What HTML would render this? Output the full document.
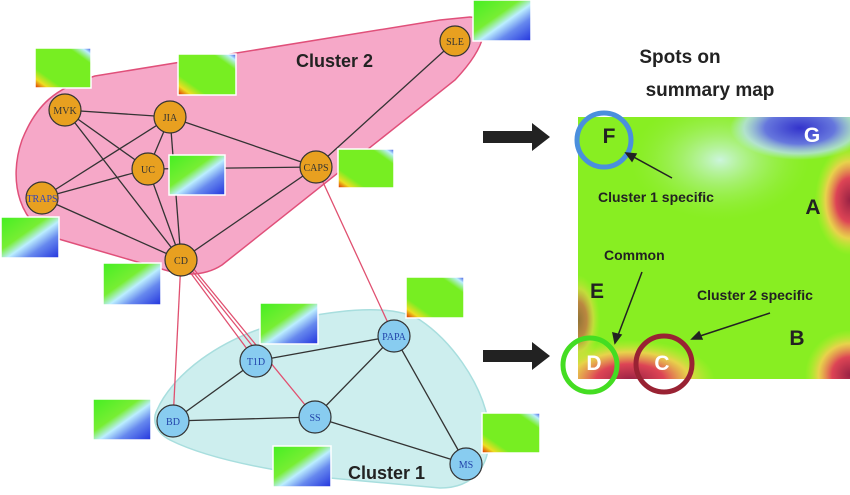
<!DOCTYPE html>
<html><head><style>
body{margin:0;width:850px;height:490px;overflow:hidden;background:#fff;font-family:"Liberation Sans",sans-serif}
</style></head><body>
<svg width="850" height="490" xmlns="http://www.w3.org/2000/svg">
<defs>
<linearGradient id="t1" x1="0" y1="0" x2="1" y2="1">
<stop offset="0" stop-color="#44ee22"/><stop offset="0.4" stop-color="#77ee33"/><stop offset="0.55" stop-color="#bbeeff"/><stop offset="0.72" stop-color="#6688ee"/><stop offset="1" stop-color="#2233dd"/></linearGradient>
<linearGradient id="t2" x1="0" y1="1" x2="1" y2="0">
<stop offset="0" stop-color="#dd2200"/><stop offset="0.12" stop-color="#eedd22"/><stop offset="0.25" stop-color="#77ee22"/><stop offset="0.8" stop-color="#77ee22"/><stop offset="0.92" stop-color="#bbeeff"/><stop offset="1" stop-color="#3344dd"/></linearGradient>
<radialGradient id="hot" cx="0.5" cy="0.5" r="0.5"><stop offset="0" stop-color="#992244"/><stop offset="0.4" stop-color="#dd4455"/><stop offset="0.7" stop-color="#ffcc55" stop-opacity="0.8"/><stop offset="1" stop-color="#ccee33" stop-opacity="0"/></radialGradient>
<radialGradient id="cold" cx="0.5" cy="0.5" r="0.5"><stop offset="0" stop-color="#3333cc"/><stop offset="0.5" stop-color="#6677dd"/><stop offset="0.8" stop-color="#bbddff" stop-opacity="0.7"/><stop offset="1" stop-color="#bbeeff" stop-opacity="0"/></radialGradient>
<radialGradient id="light" cx="0.5" cy="0.5" r="0.5"><stop offset="0" stop-color="#ccf5dd"/><stop offset="1" stop-color="#99ee44" stop-opacity="0"/></radialGradient>
<clipPath id="mc"><rect x="578" y="117" width="272" height="262"/></clipPath>
</defs>
<path d="M470,17 C492,18 488,45 455,80 L222,265 C205,276 185,276 165,270 L62,240 C18,228 8,180 22,140 C36,105 55,88 95,76 L440,20 Z" fill="#f6a8c8" stroke="#e0507a" stroke-width="1.5"/>
<path d="M157,410 C170,380 215,335 300,318 C350,308 395,305 420,320 C450,340 480,380 488,420 C495,470 470,488 440,488 L330,478 C250,468 200,455 170,440 C155,432 152,420 157,410 Z" fill="#cdeeee" stroke="#a8dede" stroke-width="1.5"/>
<g stroke="#e05070" stroke-width="1.3">
<line x1="181" y1="260" x2="173" y2="421"/><line x1="181" y1="260" x2="256" y2="361"/><line x1="185" y1="262" x2="262" y2="358"/><line x1="188" y1="262" x2="315" y2="417"/><line x1="316" y1="167" x2="394" y2="336"/>
</g>
<g stroke="#333" stroke-width="1.3">
<line x1="65" y1="110" x2="170" y2="117"/><line x1="65" y1="110" x2="148" y2="169"/><line x1="65" y1="110" x2="181" y2="260"/>
<line x1="170" y1="117" x2="42" y2="198"/><line x1="170" y1="117" x2="148" y2="169"/><line x1="170" y1="117" x2="181" y2="260"/><line x1="170" y1="117" x2="316" y2="167"/>
<line x1="148" y1="169" x2="42" y2="198"/><line x1="148" y1="169" x2="181" y2="260"/><line x1="148" y1="169" x2="316" y2="167"/>
<line x1="42" y1="198" x2="181" y2="260"/><line x1="316" y1="167" x2="181" y2="260"/><line x1="316" y1="167" x2="455" y2="41"/>
<line x1="256" y1="361" x2="394" y2="336"/><line x1="256" y1="361" x2="173" y2="421"/><line x1="173" y1="421" x2="315" y2="417"/><line x1="315" y1="417" x2="394" y2="336"/><line x1="315" y1="417" x2="466" y2="464"/><line x1="394" y1="336" x2="466" y2="464"/>
</g>
<g stroke="#fff" stroke-width="1.5">
<rect x="35" y="48" width="56" height="40" fill="url(#t2)"/>
<rect x="178" y="54" width="58" height="41" fill="url(#t2)"/>
<rect x="169" y="155" width="56" height="40" fill="url(#t1)"/>
<rect x="338" y="149" width="56" height="39" fill="url(#t2)"/>
<rect x="1" y="217" width="58" height="41" fill="url(#t1)"/>
<rect x="103" y="263" width="58" height="42" fill="url(#t1)"/>
<rect x="473" y="0" width="58" height="41" fill="url(#t1)"/>
<rect x="406" y="277" width="58" height="41" fill="url(#t2)"/>
<rect x="260" y="303" width="58" height="41" fill="url(#t1)"/>
<rect x="93" y="399" width="58" height="41" fill="url(#t1)"/>
<rect x="273" y="446" width="58" height="41" fill="url(#t1)"/>
<rect x="482" y="413" width="58" height="40" fill="url(#t2)"/>
</g>
<g font-family="Liberation Serif,serif" font-size="10" text-anchor="middle">
<g fill="#e8a020" stroke="#333" stroke-width="1.2">
<circle cx="455" cy="41" r="15"/><circle cx="65" cy="110" r="16"/><circle cx="170" cy="117" r="16"/><circle cx="148" cy="169" r="16"/><circle cx="42" cy="198" r="16"/><circle cx="316" cy="167" r="16"/><circle cx="181" cy="260" r="16"/>
</g>
<g fill="#333"><text x="455" y="45">SLE</text><text x="65" y="114">MVK</text><text x="170" y="121">JIA</text><text x="148" y="173">UC</text><text x="316" y="171">CAPS</text><text x="181" y="264">CD</text></g>
<text x="42" y="202" fill="#3344bb">TRAPS</text>
<g fill="#88ccf0" stroke="#333" stroke-width="1.2">
<circle cx="256" cy="361" r="16"/><circle cx="394" cy="336" r="16"/><circle cx="173" cy="421" r="16"/><circle cx="315" cy="417" r="16"/><circle cx="466" cy="464" r="16"/>
</g>
<g fill="#2244aa"><text x="256" y="365">T1D</text><text x="394" y="340">PAPA</text><text x="173" y="425">BD</text><text x="315" y="421">SS</text><text x="466" y="468">MS</text></g>
</g>
<text x="296" y="67" font-size="18" font-weight="bold" fill="#222">Cluster 2</text>
<text x="348" y="479" font-size="18" font-weight="bold" fill="#222">Cluster 1</text>
<polygon points="483,131 532,131 532,123 550,137 532,151 532,143 483,143" fill="#222"/>
<polygon points="483,350 532,350 532,342 550,356 532,370 532,362 483,362" fill="#222"/>
<text x="680" y="63" font-size="19" font-weight="bold" fill="#222" text-anchor="middle">Spots on</text>
<text x="710" y="96" font-size="19" font-weight="bold" fill="#222" text-anchor="middle">summary map</text>
<g clip-path="url(#mc)">
<rect x="578" y="117" width="272" height="262" fill="#88ee22"/>
<ellipse cx="720" cy="160" rx="90" ry="60" fill="url(#light)"/>
<ellipse cx="800" cy="128" rx="70" ry="32" fill="url(#cold)"/>
<ellipse cx="850" cy="200" rx="35" ry="55" fill="url(#hot)"/>
<ellipse cx="850" cy="375" rx="45" ry="45" fill="url(#hot)"/>
<ellipse cx="630" cy="380" rx="85" ry="40" fill="url(#hot)"/>
<ellipse cx="578" cy="320" rx="22" ry="45" fill="url(#hot)" opacity="0.6"/>
</g>
<g font-size="21" font-weight="bold" text-anchor="middle">
<text x="609" y="143" fill="#222">F</text><text x="812" y="142" fill="#fff">G</text><text x="813" y="214" fill="#222">A</text><text x="597" y="298" fill="#222">E</text><text x="797" y="345" fill="#222">B</text><text x="594" y="370" fill="#fff">D</text><text x="662" y="370" fill="#fff">C</text>
</g>
<circle cx="604" cy="140" r="27" fill="none" stroke="#4a8fdd" stroke-width="5"/>
<circle cx="590" cy="365" r="27" fill="none" stroke="#44dd22" stroke-width="5"/>
<circle cx="664" cy="364" r="28" fill="none" stroke="#992233" stroke-width="5"/>
<g font-size="14" font-weight="bold" fill="#222">
<text x="598" y="202">Cluster 1 specific</text><text x="604" y="260">Common</text><text x="697" y="300">Cluster 2 specific</text>
</g>
<g stroke="#222" stroke-width="1.5" fill="#222">
<line x1="672" y1="178" x2="630" y2="155"/><polygon points="626,153 636,154 632,161"/>
<line x1="642" y1="272" x2="617" y2="338"/><polygon points="615,343 613,333 621,335"/>
<line x1="770" y1="313" x2="697" y2="337"/><polygon points="692,339 699,332 702,339"/>
</g>
</svg>
</body></html>
